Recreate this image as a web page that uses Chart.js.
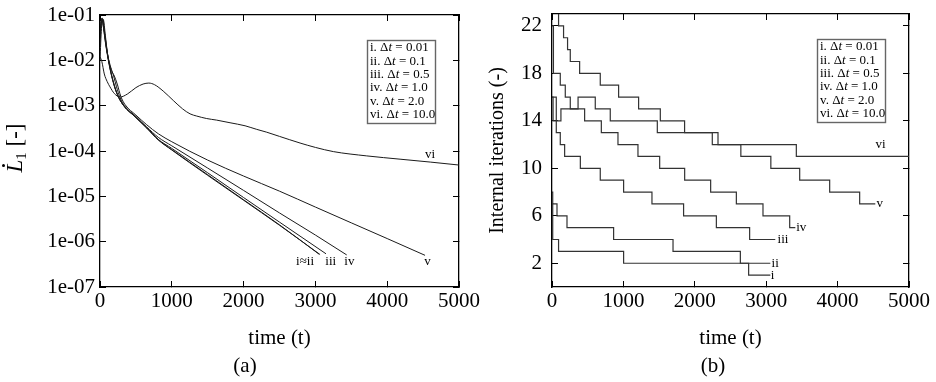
<!DOCTYPE html>
<html>
<head>
<meta charset="utf-8">
<script src="https://cdn.jsdelivr.net/npm/chart.js@4"></script>
<style>
body { margin: 0; background: #fff; }
#wrap { position: relative; width: 936px; height: 382px; overflow: hidden; background: #fff; }
canvas { position: absolute; top: 0; }
</style>
</head>
<body>
<div id="wrap">
<canvas id="lossChart" width="490" height="382" style="left:0"></canvas>
<canvas id="iterChart" width="468" height="382" style="left:468px"></canvas>
</div>
<script>
const SERIF = '"Liberation Serif", "DejaVu Serif", serif';

// legend entries
const seriesNames = ['i', 'ii', 'iii', 'iv', 'v', 'vi'];
const stepSizes = ['0.01', '0.1', '0.5', '1.0', '2.0', '10.0'];

// axis ticks
const timeTicks = [0, 1000, 2000, 3000, 4000, 5000];
const lossTicks = [1e-7, 1e-6, 1e-5, 1e-4, 1e-3, 1e-2, 1e-1];
const iterTicks = [2, 6, 10, 14, 18, 22];

// (a) residual rate L1, [time, value]
const lossI = [[0, 0.03], [15, 0.07], [30, 0.085], [50, 0.05], [80, 0.022], [116, 0.01], [163, 4.4e-3], [232, 1.9e-3],
  [330, 1.0e-3], [487, 5.7e-4], [650, 3.2e-4], [812, 1.75e-4], [1000, 1.05e-4], [1500, 2.9e-5], [2000, 8.2e-6],
  [2500, 2.3e-6], [3065, 5.2e-7]];
const lossII = [[0, 0.035], [15, 0.075], [30, 0.085], [50, 0.052], [80, 0.023], [116, 0.011], [163, 4.6e-3], [232, 1.95e-3],
  [330, 1.0e-3], [487, 5.75e-4], [650, 3.25e-4], [812, 1.77e-4], [1000, 1.07e-4], [1500, 3.0e-5], [2000, 8.4e-6],
  [2500, 2.35e-6], [3050, 5.3e-7]];
const lossIII = [[0, 0.04], [25, 0.08], [55, 0.05], [90, 0.02], [130, 8e-3], [180, 3.6e-3], [240, 1.8e-3], [330, 1.0e-3],
  [487, 5.8e-4], [650, 3.3e-4], [812, 1.8e-4], [1000, 1.14e-4], [1500, 3.3e-5], [2000, 9.4e-6], [2500, 2.7e-6],
  [3148, 5.4e-7]];
const lossIV = [[0, 0.02], [20, 0.07], [40, 0.08], [65, 0.04], [100, 0.015], [150, 7e-3], [190, 4.5e-3], [230, 2.6e-3],
  [280, 1.5e-3], [340, 1.0e-3], [500, 5.8e-4], [650, 3.4e-4], [812, 2.0e-4], [1000, 1.3e-4], [1500, 4.2e-5],
  [2000, 1.35e-5], [2500, 4.3e-6], [3000, 1.4e-6], [3436, 5.1e-7]];
const lossV = [[0, 0.01], [20, 0.05], [45, 0.08], [75, 0.035], [110, 0.012], [160, 6e-3], [200, 4.5e-3], [240, 3e-3],
  [290, 1.6e-3], [350, 1.05e-3], [500, 6.2e-4], [650, 3.8e-4], [812, 2.4e-4], [1000, 1.6e-4], [1500, 6.3e-5],
  [2000, 2.8e-5], [2500, 1.3e-5], [3000, 5.8e-6], [3500, 2.6e-6], [4000, 1.17e-6], [4527, 5.0e-7]];
const lossVI = [[0, 0.012], [25, 9.5e-3], [60, 5e-3], [100, 3.4e-3], [139, 2.6e-3], [200, 1.85e-3], [280, 1.55e-3],
  [380, 1.8e-3], [500, 2.5e-3], [600, 3.0e-3], [680, 3.15e-3], [760, 2.9e-3], [880, 2.1e-3], [1021, 1.3e-3],
  [1150, 8.5e-4], [1254, 6.6e-4], [1347, 5.9e-4], [1486, 5.2e-4], [1625, 4.8e-4], [1811, 4.2e-4], [2020, 3.6e-4],
  [2183, 3.0e-4], [2322, 2.6e-4], [2500, 2.1e-4], [2786, 1.5e-4], [3000, 1.2e-4], [3250, 9.7e-5], [3715, 7.8e-5],
  [4179, 6.6e-5], [4600, 5.7e-5], [5000, 4.9e-5]];

// (b) internal iterations per step, [time, count] held until next point
const iterI = [[0, 7], [10, 4], [92, 3], [1003, 2], [2754, 1], [3058, 1]];
const iterII = [[0, 8], [10, 7], [70, 6], [210, 5], [863, 4], [1695, 3], [2638, 2], [3058, 2]];
const iterIII = [[0, 16], [60, 13], [116, 12], [177, 11], [397, 10], [676, 9], [1003, 8], [1400, 7], [1843, 6],
  [2302, 5], [2768, 4], [3127, 4]];
const iterIV = [[0, 16], [15, 14], [125, 15], [457, 14], [691, 13], [924, 12], [1204, 11], [1508, 10], [1858, 9],
  [2222, 8], [2582, 7], [2955, 6], [3329, 5], [3408, 5]];
const iterV = [[0, 24], [92, 22], [162, 21], [218, 20], [256, 19], [387, 18], [676, 17], [933, 16], [1213, 15],
  [1517, 14], [1857, 13], [2245, 12], [2645, 11], [3065, 10], [3469, 9], [3889, 8], [4309, 7], [4528, 7]];
const iterVI = [[0, 22], [20, 18], [116, 17], [186, 16], [256, 15], [365, 16], [606, 15], [816, 14], [1475, 13],
  [2325, 12], [3422, 11], [5000, 11]];

// curve labels inside the plots
const lossLabelText = ['vi', 'i\u2248ii', 'iii', 'iv', 'v'];
const lossLabelAt = [[4597, 8.5e-5], [2856, 3.7e-7], [3214, 3.7e-7], [3473, 3.7e-7], [4560, 3.7e-7]];
const iterLabelText = ['vi', 'v', 'iv', 'iii', 'ii', 'i'];
const iterLabelAt = [[4602, 12], [4590, 7], [3490, 5], [3235, 4], [3125, 2], [3090, 1]];

const lossSeries = [lossI, lossII, lossIII, lossIV, lossV, lossVI];
const iterSeries = [iterI, iterII, iterIII, iterIV, iterV, iterVI];

function drawLegend(chart) {
  const {ctx, chartArea} = chart;
  const lineH = 13.3;
  const x0 = chartArea.right - 92;
  const y0 = chartArea.top + 25;
  ctx.save();
  ctx.fillStyle = '#fff';
  ctx.fillRect(x0, y0, 68, 83);
  ctx.strokeStyle = '#666';
  ctx.lineWidth = 1.4;
  ctx.strokeRect(x0 + 0.5, y0 + 0.5, 68, 83);
  ctx.fillStyle = '#000';
  ctx.textBaseline = 'middle';
  ctx.textAlign = 'left';
  seriesNames.forEach((name, k) => {
    const y = y0 + 8 + k * lineH;
    let x = x0 + 3;
    [[name + '. \u0394', false], ['t', true], [' = ' + stepSizes[k], false]].forEach(([s, it]) => {
      ctx.font = (it ? 'italic ' : '') + '13px ' + SERIF;
      ctx.fillText(s, x, y);
      x += ctx.measureText(s).width;
    });
  });
  ctx.restore();
}

function drawCurveLabels(chart, texts, spots) {
  const {ctx, scales} = chart;
  ctx.save();
  ctx.font = '13px ' + SERIF;
  ctx.fillStyle = '#000';
  ctx.textAlign = 'center';
  ctx.textBaseline = 'middle';
  texts.forEach((t, k) => {
    ctx.fillText(t, scales.x.getPixelForValue(spots[k][0]), scales.y.getPixelForValue(spots[k][1]));
  });
  ctx.restore();
}

function caption(chart, text, x) {
  const ctx = chart.ctx;
  ctx.save();
  ctx.font = '21px ' + SERIF;
  ctx.fillStyle = '#000';
  ctx.textAlign = 'center';
  ctx.textBaseline = 'middle';
  ctx.fillText(text, x, 366);
  ctx.restore();
}

const lossExtras = {
  id: 'lossExtras',
  afterDraw(chart) {
    drawLegend(chart);
    drawCurveLabels(chart, lossLabelText, lossLabelAt);
    caption(chart, '(a)', 245);
    // y title: L-dot with subscript 1, rotated
    const ctx = chart.ctx;
    const cy = (chart.chartArea.top + chart.chartArea.bottom) / 2 - 3;
    ctx.save();
    ctx.translate(0, cy);
    ctx.rotate(-Math.PI / 2);
    ctx.fillStyle = '#000';
    ctx.textBaseline = 'alphabetic';
    ctx.textAlign = 'left';
    const fL = 'italic 23px ' + SERIF, fS = '15px ' + SERIF, fR = '23px ' + SERIF;
    ctx.font = fL; const wL = ctx.measureText('L').width;
    ctx.font = fS; const wS = ctx.measureText('1').width;
    ctx.font = fR; const wR = ctx.measureText(' [-]').width;
    let x = -(wL + wS + wR) / 2;
    const base = 22;
    ctx.font = fL; ctx.fillText('L', x, base);
    ctx.beginPath();
    ctx.arc(x + wL * 0.55, base - 18.5, 1.5, 0, Math.PI * 2);
    ctx.fill();
    x += wL;
    ctx.font = fS; ctx.fillText('1', x, base + 4);
    x += wS;
    ctx.font = fR; ctx.fillText(' [-]', x, base);
    ctx.restore();
  }
};

const iterExtras = {
  id: 'iterExtras',
  afterDraw(chart) {
    drawLegend(chart);
    drawCurveLabels(chart, iterLabelText, iterLabelAt);
    caption(chart, '(b)', 245);
  }
};

const tickFont = { family: SERIF, size: 21 };

// no automatic label padding: the plot frame is fixed by the layout padding
const noPadX = s => { s.paddingLeft = 0; s.paddingRight = 0; };
const noPadY = s => { s.paddingTop = 0; s.paddingBottom = 0; };

function frameScales(xTitle, yMin, yMax, yType, yTicks, yPad, yLabel) {
  const setX = s => { s.ticks = timeTicks.map(v => ({ value: v })); };
  const setY = s => { s.ticks = yTicks.map(v => ({ value: v })); };
  const grid = { drawOnChartArea: false, tickLength: -6, color: '#000', lineWidth: 1 };
  const border = { color: '#000', width: 1.3 };
  return {
    x: {
      type: 'linear', position: 'bottom', min: 0, max: 5000,
      afterBuildTicks: setX, afterFit: s => { s.height = 95; noPadX(s); },
      grid, border,
      ticks: { color: '#000', font: tickFont, padding: 8, maxRotation: 0, callback: v => String(v) },
      title: { display: true, text: xTitle, color: '#000', font: tickFont, padding: { top: 0, bottom: 31 } }
    },
    x2: {
      type: 'linear', position: 'top', min: 0, max: 5000,
      afterBuildTicks: setX, afterFit: s => { s.height = 0; noPadX(s); },
      grid, border, ticks: { display: false }
    },
    y: {
      type: yType, position: 'left', min: yMin, max: yMax,
      afterBuildTicks: setY, afterFit: s => { s.width = yPad.width; noPadY(s); },
      grid, border,
      ticks: {
        color: '#000', font: tickFont, padding: yPad.padding,
        callback: yType === 'logarithmic'
          ? v => '1e-' + String(-Math.round(Math.log10(v))).padStart(2, '0')
          : v => String(v)
      },
      title: yLabel
    },
    y2: {
      type: yType, position: 'right', min: yMin, max: yMax,
      afterBuildTicks: setY, afterFit: s => { s.width = 0; noPadY(s); },
      grid, border, ticks: { display: false }
    }
  };
}

new Chart(document.getElementById('lossChart'), {
  type: 'line',
  data: {
    datasets: lossSeries.map((pts, k) => ({
      label: seriesNames[k],
      data: pts.map(([x, y]) => ({ x, y })),
      xAxisID: 'x', yAxisID: 'y',
      borderColor: '#1a1a1a', borderWidth: 1,
      pointRadius: 0, fill: false,
      cubicInterpolationMode: 'monotone'
    }))
  },
  options: {
    responsive: false, animation: false, devicePixelRatio: 1,
    layout: { padding: { left: 0, right: 31, top: 15, bottom: 0 } },
    plugins: { legend: { display: false }, tooltip: { enabled: false } },
    scales: frameScales('time (t)', 1e-7, 1e-1, 'logarithmic', lossTicks, { width: 100, padding: 11 }, { display: false })
  },
  plugins: [lossExtras]
});

new Chart(document.getElementById('iterChart'), {
  type: 'line',
  data: {
    datasets: iterSeries.map((pts, k) => ({
      label: seriesNames[k],
      data: pts.map(([x, y]) => ({ x, y })),
      xAxisID: 'x', yAxisID: 'y',
      borderColor: '#333', borderWidth: 1.2,
      pointRadius: 0, fill: false,
      stepped: 'before'
    }))
  },
  options: {
    responsive: false, animation: false, devicePixelRatio: 1,
    layout: { padding: { left: 0, right: 27, top: 14, bottom: 0 } },
    plugins: { legend: { display: false }, tooltip: { enabled: false } },
    scales: frameScales('time (t)', 0, 23, 'linear', iterTicks, { width: 84, padding: 16 },
      { display: true, text: 'Internal iterations (-)', color: '#000', font: { family: SERIF, size: 20 }, padding: { top: 18, bottom: 0 } })
  },
  plugins: [iterExtras]
});
</script>
</body>
</html>
